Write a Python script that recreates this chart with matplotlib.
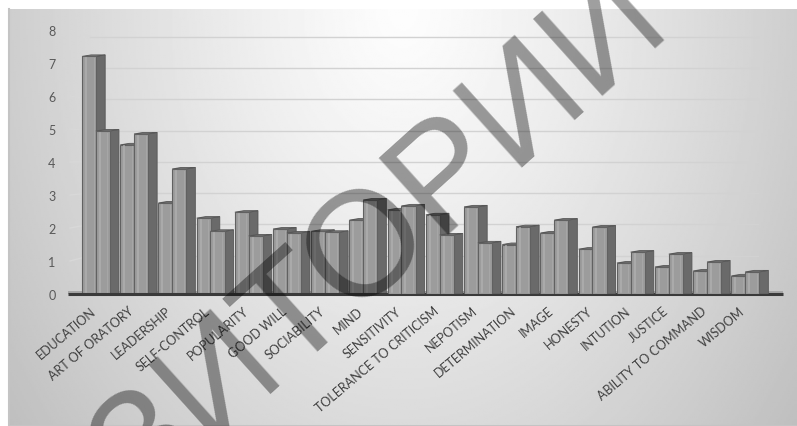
import numpy as np
import matplotlib.pyplot as plt
from matplotlib.patches import Polygon

categories = ['EDUCATION', 'ART OF ORATORY', 'LEADERSHIP', 'SELF-CONTROL',
              'POPULARITY', 'GOOD WILL', 'SOCIABILITY', 'MIND', 'SENSITIVITY',
              'TOLERANCE TO CRITICISM', 'NEPOTISM', 'DETERMINATION', 'IMAGE',
              'HONESTY', 'INTUTION', 'JUSTICE', 'ABILITY TO COMMAND', 'WISDOM']
series_a = [7.2, 4.52, 2.76, 2.3, 2.48, 1.97, 1.9, 2.24, 2.55,
            2.4, 2.64, 1.5, 1.85, 1.36, 0.94, 0.82, 0.7, 0.55]
series_b = [4.94, 4.85, 3.79, 1.9, 1.76, 1.85, 1.87, 2.85, 2.67,
            1.79, 1.55, 2.04, 2.24, 2.03, 1.27, 1.21, 0.97, 0.67]
yticks = [0, 1, 2, 3, 4, 5, 6, 7, 8]

W, H = 797, 427
fig = plt.figure(figsize=(W / 100, H / 100), dpi=100)
fig.patch.set_facecolor('white')

# gradient panel behind the chart
bg = fig.add_axes([9 / W, 0, 1 - 9 / W, (H - 10) / H])
gx, gy = np.meshgrid(np.linspace(0, 1, 400), np.linspace(0, 1, 220))
d = np.sqrt(((gx - 0.5) / 0.5) ** 2 + (gy / 1.3) ** 2)
val = np.clip(253 - 47 * d ** 1.2, 0, 255) / 255
bg.imshow(val, cmap='gray', vmin=0, vmax=1, aspect='auto', extent=(0, 1, 1, 0))
bg.set_xlim(0, 1)
bg.set_ylim(1, 0)
bg.axis('off')
bg.plot([0, 0, 1], [1, 0, 0], color='#c4c4c4', lw=1.5, transform=bg.transAxes, clip_on=False)

# main axes, pixel layout: x 68..785, value 0 at y=295, 8 at y=31
x0_px, x1_px = 68, 785
pitch = 38.2
c0 = 96
ppu_y = 33.0
ax = fig.add_axes([x0_px / W, (H - 295) / H, (x1_px - x0_px) / W, 8 * ppu_y / H])
ax.set_facecolor('none')
ax.set_xlim(-(c0 - x0_px) / pitch, (x1_px - c0) / pitch)
ax.set_ylim(0, 8)
for s in ax.spines.values():
    s.set_visible(False)

# back wall gridlines (perspective a bit off the labels)
for v in yticks[1:]:
    yg = (295 - (288 - 31.3 * v)) / ppu_y
    ax.plot([(90 - c0) / pitch, (758 - c0) / pitch], [yg, yg], color='#d2d2d2', lw=1, zorder=1)
    ax.plot([(70 - c0) / pitch, (90 - c0) / pitch], [v, yg], color='#d8d8d8', lw=1, zorder=1)

# floor
ax.fill_between([(68 - c0) / pitch, (783 - c0) / pitch], 0, 0.08, color='#a6a6a6', zorder=2, lw=0)
ax.plot([(68 - c0) / pitch, (783 - c0) / pitch], [0, 0], color='#3a3a3a', lw=2.2, zorder=50,
        solid_capstyle='butt', clip_on=False)

w = 0.37
off = 0.18
dx = 9 / pitch
dy = 1.5 / ppu_y
idx = np.arange(len(categories))
z = 3
for i in idx:
    for xs, h in ((i - off, series_a[i]), (i + off, series_b[i])):
        xr = xs + w / 2
        side = Polygon([(xr, h), (xr + dx, h + dy), (xr + dx, 0), (xr, 0)],
                       closed=True, facecolor='#6a6a6a', edgecolor='#575757', lw=0.6, zorder=z)
        ax.add_patch(side)
        top = Polygon([(xs - w / 2, h), (xs - w / 2 + dx, h + dy), (xr + dx, h + dy), (xr, h)],
                      closed=True, facecolor='#7a7a7a', edgecolor='#575757', lw=0.6, zorder=z)
        ax.add_patch(top)
        ax.bar(xs, h, width=w, color='#9c9c9c', edgecolor='#616161', lw=0.8, zorder=z + 1)
        ax.plot([xs - w * 0.22, xs - w * 0.22], [0.05, h - 0.05], color='#adadad', lw=1.2, zorder=z + 2)
        ax.plot([xs + w * 0.32, xs + w * 0.32], [0.05, h - 0.05], color='#a6a6a6', lw=0.8, zorder=z + 2)
        z += 3

ax.set_yticks(yticks)
ax.set_yticklabels([str(t) for t in yticks], fontfamily='Lato', fontsize=9, color='#595959')
ax.tick_params(axis='y', length=0, pad=9)
ax.set_xticks([])
for i in idx:
    ax.text(i - 0.06, -0.45, categories[i], ha='right', va='center', rotation=40,
            rotation_mode='anchor', fontfamily='Lato', fontsize=9, color='#404040')

# repository watermark
fig.text(221 / W, 1 - 375 / H, 'РЕПОЗИТОРИЙ', fontfamily='Liberation Sans', fontsize=108,
         color='black', alpha=0.38, rotation=42, ha='center', va='center',
         rotation_mode='anchor', zorder=100)

fig.savefig('out.png', dpi=100)
